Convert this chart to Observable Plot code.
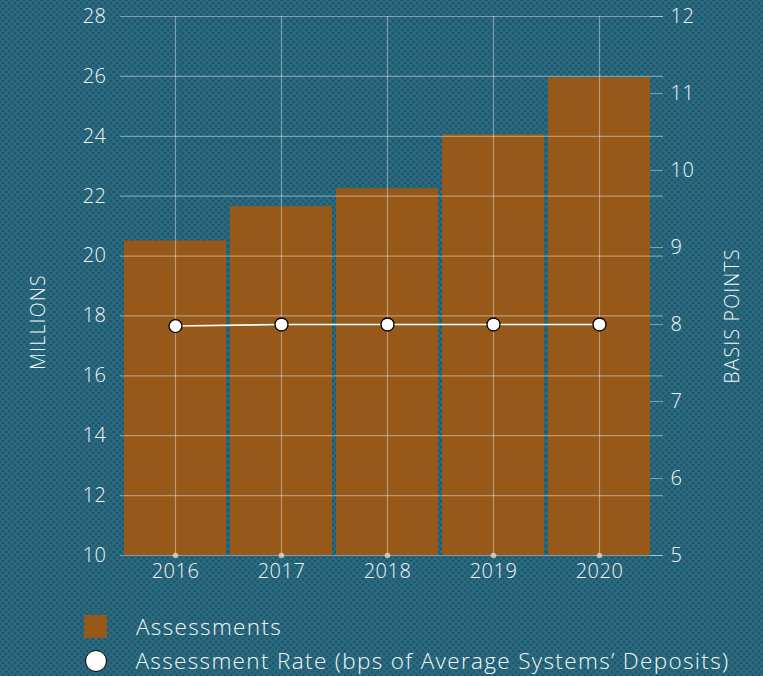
<!DOCTYPE html>
<html>
<head>
<meta charset="utf-8">
<script src="https://cdn.jsdelivr.net/npm/d3@7"></script>
<script src="https://cdn.jsdelivr.net/npm/@observablehq/plot@0.6"></script>
<style>
  html, body { margin: 0; padding: 0; }
  body {
    width: 763px; height: 676px; overflow: hidden;
    background-color: #2c6d83;
    background-image:
      radial-gradient(circle, #1f576b 1.3px, transparent 1.8px),
      radial-gradient(circle, #1f576b 1.3px, transparent 1.8px);
    background-size: 6px 6px;
    background-position: 0 0, 3px 3px;
    font-family: "Open Sans", Roboto, sans-serif;
    font-weight: 300;
    color: #f2f6f7;
  }
  #chart svg { background: transparent !important; display: block; }
  #chart svg g[aria-label$="tick label"] text { letter-spacing: 0.5px; }
  #chart svg g[aria-label="text"] text { letter-spacing: 1.2px; }
  .legend { position: relative; height: 76px; }
  .legend .row { position: absolute; left: 84px; display: flex; align-items: center; font-size: 22.5px; letter-spacing: 1.35px; white-space: nowrap; }
  .legend .sw { width: 23px; height: 23px; background: #975919; margin-right: 29px; }
  .legend .circ { width: 20px; height: 20px; border-radius: 50%; background: #fff; border: 1.5px solid #000; margin-right: 29px; margin-left: 0.5px; }
</style>
</head>
<body>
<div id="chart"></div>
<div class="legend">
  <div class="row" style="top:11px;"><div class="sw"></div><span>Assessments</span></div>
  <div class="row" style="top:45px;"><div class="circ"></div><span>Assessment Rate (bps of Average Systems’ Deposits)</span></div>
</div>
<script>
const years = ["2016", "2017", "2018", "2019", "2020"];
const assessments = [20.5, 21.65, 22.25, 24.05, 25.95];   // millions
const rates = [7.98, 8.0, 8.0, 8.0, 8.0];                  // basis points
const leftTicks = [10, 12, 14, 16, 18, 20, 22, 24, 26, 28];
const rightTicks = [5, 6, 7, 8, 9, 10, 11, 12];

// map basis points (5..12) onto millions axis (10..28)
const toM = r => 10 + (r - 5) * 18 / 7;
const fromM = m => 5 + (m - 10) * 7 / 18;

const data = years.map((y, i) => ({year: y, value: assessments[i], rate: rates[i], rateM: toM(rates[i])}));

const txt = "#f2f6f7";
const gridC = "rgba(255,255,255,0.38)";
const ff = "'Open Sans', Roboto, sans-serif";

const chart = Plot.plot({
  width: 763,
  height: 600,
  marginTop: 16,
  marginBottom: 45,
  marginLeft: 121,
  marginRight: 110,
  style: {background: "transparent", fontFamily: ff, fontWeight: 300, color: txt, fontSize: "20px"},
  x: {domain: years, paddingInner: 0.04, paddingOuter: 0.02},
  y: {domain: [10, 28]},
  marks: [
    Plot.barY(data, {x: "year", y1: 10, y2: "value", fill: "#975919"}),
    Plot.ruleY(leftTicks, {stroke: gridC, strokeWidth: 1.2, insetLeft: -1, insetRight: -10}),
    Plot.ruleX(years, {stroke: gridC, strokeWidth: 1.2}),
    Plot.dot(years, {x: d => d, y: () => 10, r: 2.8, fill: "rgba(230,220,210,0.75)", stroke: "none"}),
    Plot.axisY({anchor: "left", ticks: leftTicks, tickSize: 0, tickPadding: 15, label: null, fill: txt, fontSize: 20}),
    Plot.axisY({anchor: "right", ticks: rightTicks.map(toM), tickFormat: d => String(Math.round(fromM(d))), tickSize: 13, tickPadding: 8, dx: -4, label: null, stroke: gridC, fill: txt, fontSize: 20}),
    Plot.axisX({tickSize: 0, tickPadding: 8, label: null, fill: txt, fontSize: 20}),
    Plot.text(["MILLIONS"], {frameAnchor: "left", dx: -83, dy: 36, rotate: -90, textAnchor: "middle", lineAnchor: "middle", fill: txt, fontSize: 19.5}),
    Plot.text(["BASIS POINTS"], {frameAnchor: "right", dx: 79, dy: 30, rotate: -90, textAnchor: "middle", lineAnchor: "middle", fill: txt, fontSize: 19.5}),
    Plot.line(data, {x: "year", y: "rateM", stroke: "#ffffff", strokeWidth: 1.6}),
    Plot.dot(data, {x: "year", y: "rateM", r: 6.5, fill: "#ffffff", stroke: "#000000", strokeWidth: 1.3})
  ]
});
document.getElementById("chart").appendChild(chart);
</script>
</body>
</html>
